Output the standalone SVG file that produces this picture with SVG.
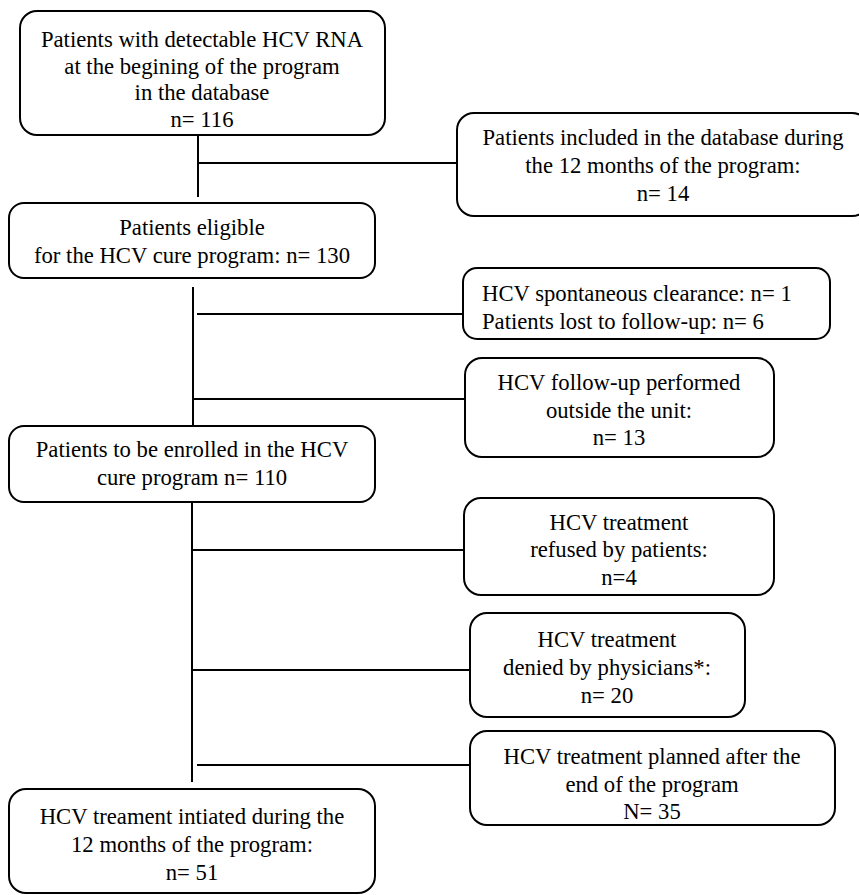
<svg xmlns="http://www.w3.org/2000/svg" width="859" height="895" viewBox="0 0 859 895">
<style>
.box{fill:#fff;stroke:#000;stroke-width:2}
.ln{stroke:#000;stroke-width:2;fill:none}
.c{text-anchor:middle}
</style>
<rect width="859" height="895" fill="#fff"/>
<g id="connectors">
<path class="ln" d="M198 135 V197 M198 163 H457"/>
<path class="ln" d="M193 287 V426 M197 314 H463 M193 399 H465"/>
<path class="ln" d="M192 497 V782 M192 550 H464 M192 670 H470 M197 765 H470"/>
</g>
<g font-family="Liberation Serif, Times New Roman, DejaVu Serif, serif" font-size="22.7" fill="#000">
<g id="n1">
<rect class="box" x="20" y="11" width="365" height="124" rx="17"/>
<text class="c" x="202" y="47">Patients with detectable HCV RNA</text>
<text class="c" x="202" y="74">at the begining of the program</text>
<text class="c" x="202" y="100">in the database</text>
<text class="c" x="202" y="127">n= 116</text>
</g>
<g id="n2">
<rect class="box" x="457" y="113" width="412" height="103" rx="17"/>
<text class="c" x="663" y="145">Patients included in the database during</text>
<text class="c" x="663" y="173">the 12 months of the program:</text>
<text class="c" x="663" y="201">n= 14</text>
</g>
<g id="n3">
<rect class="box" x="9" y="203" width="366" height="75" rx="15"/>
<text class="c" x="192" y="235">Patients eligible</text>
<text class="c" x="192" y="263">for the HCV cure program: n= 130</text>
</g>
<g id="n4">
<rect class="box" x="463" y="268" width="367" height="71" rx="14"/>
<text x="482" y="301">HCV spontaneous clearance: n= 1</text>
<text x="482" y="329">Patients lost to follow-up: n= 6</text>
</g>
<g id="n5">
<rect class="box" x="465" y="358" width="309" height="99" rx="17"/>
<text class="c" x="619" y="390">HCV follow-up performed</text>
<text class="c" x="619" y="418">outside the unit:</text>
<text class="c" x="619" y="445">n= 13</text>
</g>
<g id="n6">
<rect class="box" x="9" y="426" width="366" height="76" rx="15"/>
<text class="c" x="192" y="457">Patients to be enrolled in the HCV</text>
<text class="c" x="192" y="485">cure program n= 110</text>
</g>
<g id="n7">
<rect class="box" x="464" y="498" width="310" height="97" rx="17"/>
<text class="c" x="619" y="530">HCV treatment</text>
<text class="c" x="619" y="557">refused by patients:</text>
<text class="c" x="619" y="585">n=4</text>
</g>
<g id="n8">
<rect class="box" x="470" y="613" width="275" height="104" rx="17"/>
<text class="c" x="607" y="647">HCV treatment</text>
<text class="c" x="607" y="675">denied by physicians*:</text>
<text class="c" x="607" y="703">n= 20</text>
</g>
<g id="n9">
<rect class="box" x="470" y="731" width="365" height="94" rx="17"/>
<text class="c" x="652" y="764">HCV treatment planned after the</text>
<text class="c" x="652" y="792">end of the program</text>
<text class="c" x="652" y="819">N= 35</text>
</g>
<g id="n10">
<rect class="box" x="9" y="789" width="366" height="104" rx="17"/>
<text class="c" x="192" y="824">HCV treament intiated during the</text>
<text class="c" x="192" y="852">12 months of the program:</text>
<text class="c" x="192" y="880">n= 51</text>
</g>
</g>
</svg>
